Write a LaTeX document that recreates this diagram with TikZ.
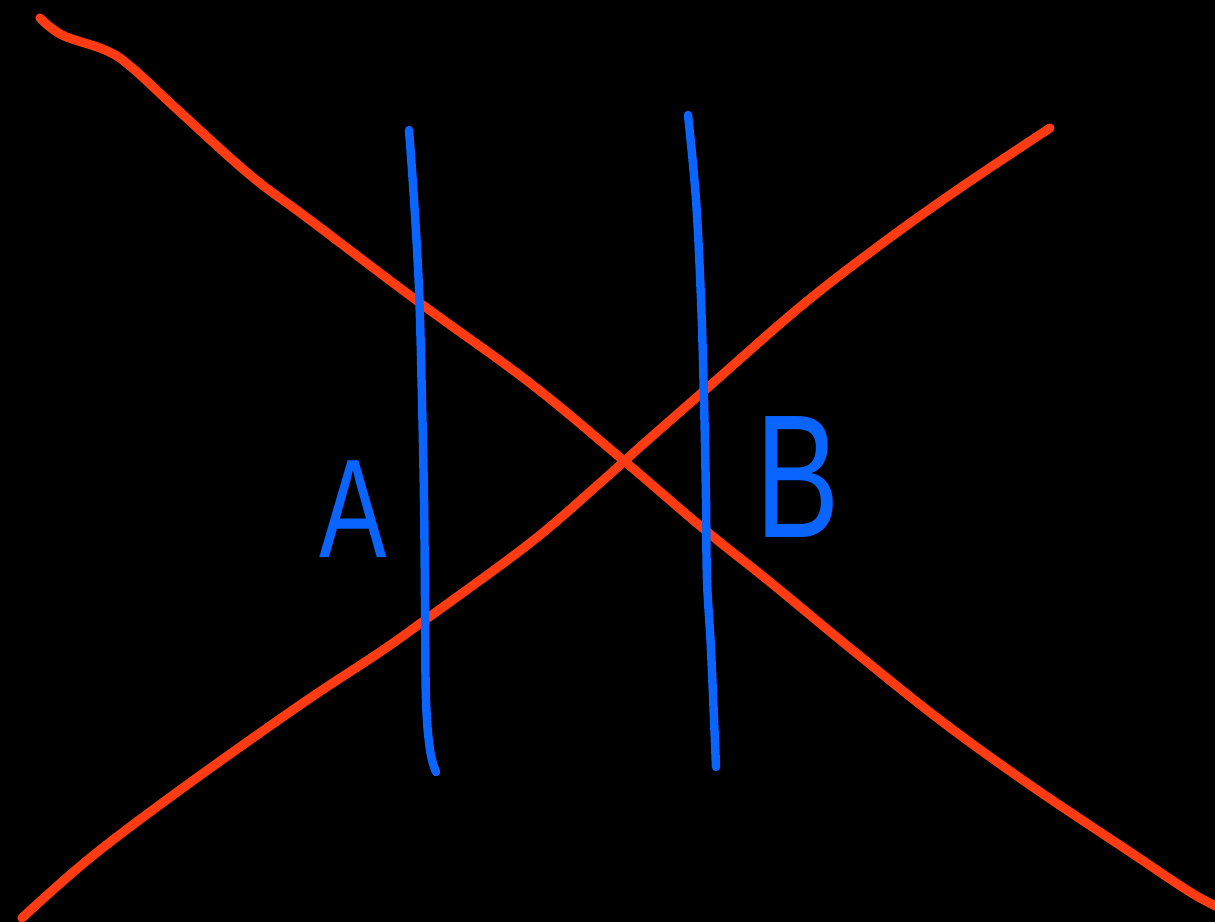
\documentclass[tikz,border=0pt]{standalone}
\usepackage{fontspec}
\newfontfamily\sketchfont[FakeStretch=0.72]{Liberation Sans}
\definecolor{inkred}{RGB}{255,59,20}
\definecolor{inkblue}{RGB}{10,100,255}
\tikzset{
  redline/.style={inkred,line width=2.6pt,line cap=round,line join=round},
  blueline/.style={inkblue,line width=2.4pt,line cap=round,line join=round},
  letter/.style={inkblue,inner sep=0pt,font=\sketchfont\fontsize{40}{40}\selectfont}
}
\begin{document}
\begin{tikzpicture}[x=0.01cm,y=-0.01cm]
        \useasboundingbox (0,0) rectangle (1215,922);
        \fill[black] (0,0) rectangle (1215,922);
        \draw[redline] plot[smooth,tension=0.6] coordinates {(40,18) (62,35) (105,50) (130,66) (180,112) (250,175) (310,220) (420,303) (530,383) (623,460) (705,530) (770,582) (850,648) (940,720) (1030,785) (1130,852) (1190,892) (1220,908)};
        \draw[redline] plot[smooth,tension=0.6] coordinates {(22,918) (90,858) (180,790) (300,705) (380,652) (425,620) (530,543) (600,483) (640,447) (705,390) (800,307) (880,245) (960,188) (1050,128)};
        \draw[blueline] plot[smooth,tension=0.6] coordinates {(409,130) (414,200) (419,290) (422,400) (424,500) (425,600) (426,700) (430,750) (436,772)};
        \draw[blueline] plot[smooth,tension=0.6] coordinates {(688,115) (696,200) (701,300) (704,400) (706,500) (707,580) (711,650) (716,767)};
        \node[letter] (labelA) at (353,509) {A};
        \node[letter,font=\sketchfont\fontsize{50}{50}\selectfont] (labelB) at (798,477) {B};
    \end{tikzpicture}
\end{document}
